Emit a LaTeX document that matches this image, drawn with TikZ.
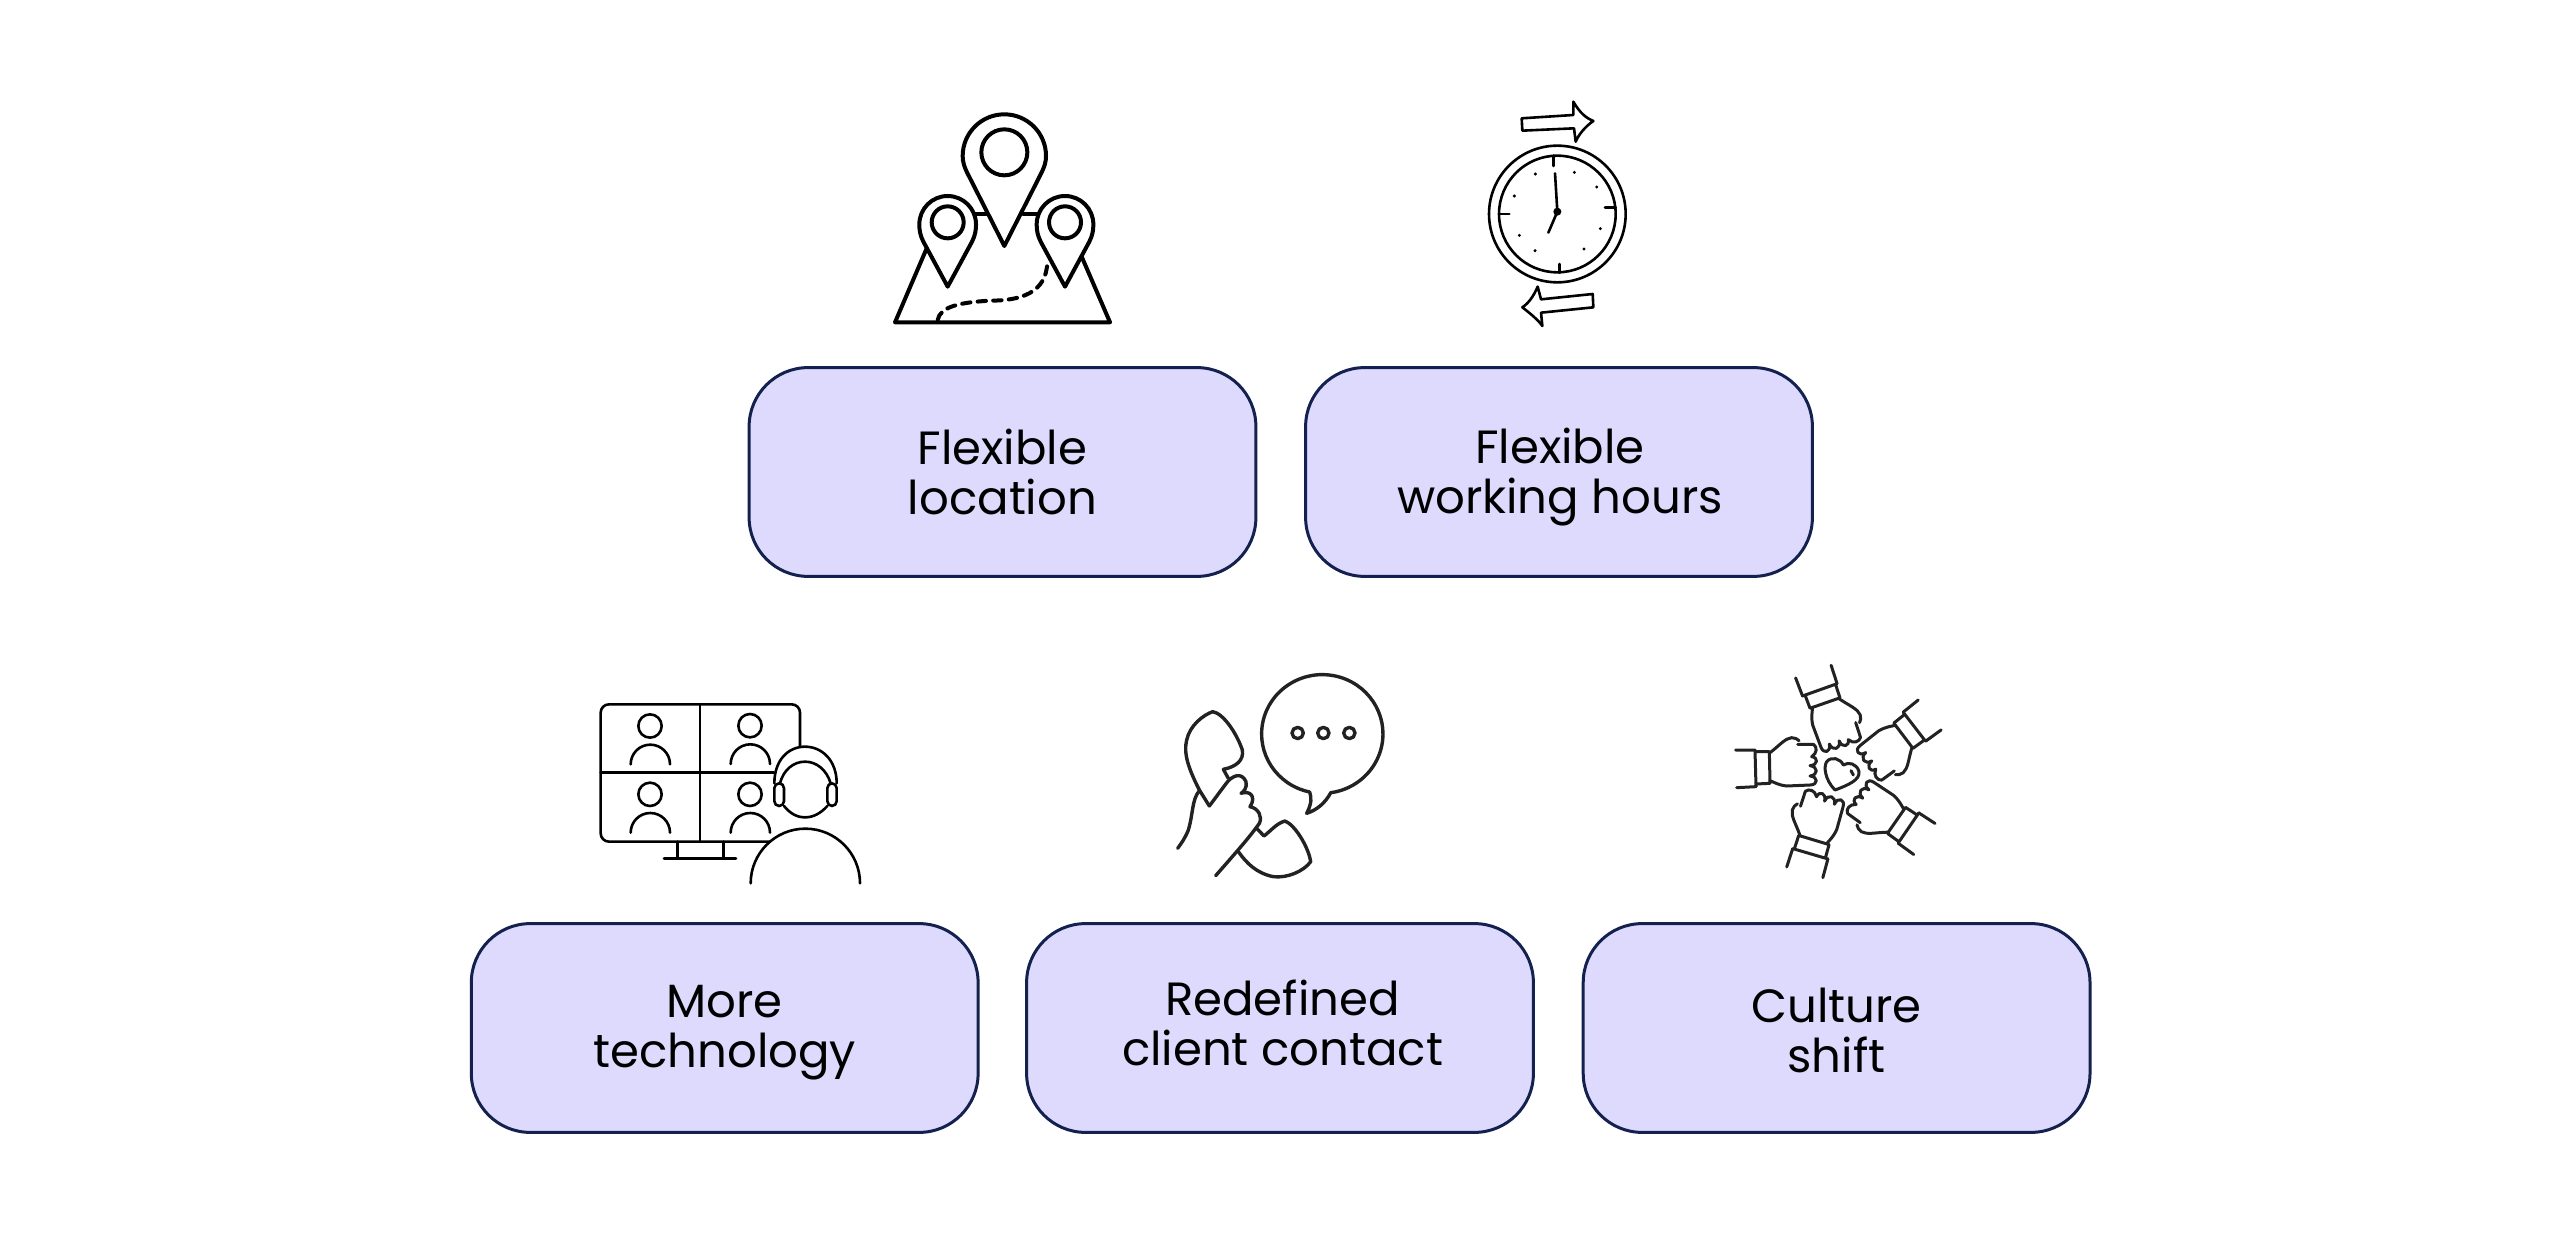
\documentclass[tikz,border=0pt]{standalone}
\usepackage{fontspec}
\setmainfont{Poppins}
\usetikzlibrary{calc}
\definecolor{boxfill}{HTML}{DDDAFD}
\definecolor{boxline}{HTML}{14214F}
\definecolor{inkdark}{HTML}{222222}
\tikzset{
  boxnode/.style={draw=boxline,fill=boxfill,line width=1.5pt,rounded corners=29.5pt,minimum width=253.4pt,minimum height=104.4pt,inner sep=0pt},
  labelnode/.style={align=center,font=\fontsize{23.3}{25}\selectfont,text=black,inner sep=0pt},
  iconheavy/.style={line width=2pt,line join=round,line cap=round},
  iconthick/.style={line width=1.7pt,line join=round,line cap=round},
  iconmid/.style={line width=1.5pt,line join=round,line cap=round},
  iconthin/.style={line width=1.3pt,line join=round,line cap=round},
  zoomunits/.style={x=0.16667pt,y=-0.16667pt},
}
\newcommand{\personicon}[2]{%
  \draw[iconthin] (#1,#2) circle[radius=35];
  \draw[iconthin] (#1-58,#2+115) arc[start angle=180,end angle=360,radius=59];
}
\newcommand{\ls}{\rule{0pt}{14pt}\rule[-5pt]{0pt}{5pt}}
\begin{document}
\begin{tikzpicture}[x=0.5pt,y=-0.5pt]
\useasboundingbox (0,0) rectangle (2563,1234);
% boxes
\node[boxnode] (b1) at (1002.5,472) {};
\node[boxnode] (b2) at (1559,472) {};
\node[boxnode] (b3) at (724.7,1028) {};
\node[boxnode] (b4) at (1280,1028) {};
\node[boxnode] (b5) at (1836.6,1028) {};
\node[labelnode] (t1) at ($(b1)+(0,5)$) {\ls Flexible\\\ls location};
\node[labelnode] (t2) at ($(b2)+(1,5)$) {\ls Flexible\\\ls working hours};
\node[labelnode] (t3) at ($(b3)+(0,5)$) {\ls More\\\ls technology};
\node[labelnode] (t4) at ($(b4)+(2.5,0)$) {\ls Redefined\\\ls client contact};
\node[labelnode] (t5) at ($(b5)+(0,7)$) {\ls Culture\\\ls shift};
% location icon
\begin{scope}[shift={(860,90)},zoomunits,iconheavy]
  \draw (433,468) -- (325,255) .. controls (312,230) and (308,215) .. (308,198) arc[start angle=180,end angle=360,radius=125] .. controls (558,215) and (554,230) .. (541,255) -- cycle;
  \draw (433,187) circle[radius=69];
  \draw (263,590) -- (190,455) .. controls (180,435) and (178,420) .. (178,403) arc[start angle=180,end angle=360,radius=85] .. controls (348,420) and (346,435) .. (336,455) -- cycle;
  \draw (263,397) circle[radius=48];
  \draw (615,590) -- (542,455) .. controls (532,435) and (530,420) .. (530,403) arc[start angle=180,end angle=360,radius=85] .. controls (700,420) and (698,435) .. (688,455) -- cycle;
  \draw (615,397) circle[radius=48];
  \draw (345,372) -- (378,372) (490,372) -- (535,372);
  \draw (200,475) -- (105,697) -- (750,697) -- (665,500);
  \draw[dash pattern=on 4.2pt off 3.6pt] (233,690) .. controls (240,650) and (300,637) .. (390,632) .. controls (480,632) and (560,610) .. (562,515);
\end{scope}
% clock icon
\begin{scope}[shift={(1460,90)},zoomunits,iconthin]
  \draw (185,85) -- (340,75) -- (340,35) .. controls (360,70) and (380,85) .. (400,93) .. controls (375,110) and (355,135) .. (347,155) -- (342,115) -- (187,122) -- cycle;
  \draw (398,612) -- (243,628) -- (233,590) .. controls (220,620) and (205,640) .. (187,652) .. controls (210,670) and (235,690) .. (247,708) -- (243,668) -- (400,652) -- cycle;
  \draw (292,372) circle[radius=205];
  \draw (292,372) circle[radius=175];
  \draw (280,197) -- (280,228) (435,353) -- (467,353) (298,522) -- (298,548) (120,372) -- (148,372);
  \draw (285,250) -- (292,365) -- (265,428);
  \fill (292,365) circle[radius=12];
  \foreach \p in {(226,252),(343,247),(410,291),(163,318),(421,416),(178,436),(225,482),(372,477)} \fill \p circle[radius=5];
\end{scope}
% video-call icon
\begin{scope}[shift={(580,680)},zoomunits,iconthin]
  \draw (660,200) -- (660,98) arc[start angle=0,end angle=-90,radius=25] -- (87,73) arc[start angle=270,end angle=180,radius=25] -- (62,460) arc[start angle=180,end angle=90,radius=25] -- (570,485);
  \draw (360,73) -- (360,485) (62,277) -- (582,277);
  \draw (292,485) -- (292,535) (430,485) -- (430,535) (252,535) -- (468,535);
  \personicon{210}{138}
  \personicon{510}{137}
  \personicon{210}{343}
  \personicon{510}{343}
  \draw (612,378) .. controls (630,400) and (650,412) .. (675,412) .. controls (700,412) and (722,400) .. (742,378);
  \draw (600,310) .. controls (610,270) and (640,245) .. (675,245) .. controls (710,245) and (740,270) .. (752,310);
  \draw (583,310) .. controls (583,240) and (625,200) .. (675,200) .. controls (725,200) and (770,240) .. (770,310);
  \draw[rounded corners=2.4pt] (583,310) rectangle (612,378);
  \draw[rounded corners=2.4pt] (742,310) rectangle (770,378);
  \draw (512,610) arc[start angle=180,end angle=360,radius=164];
\end{scope}
% phone icon
\begin{scope}[shift={(1160,660)},zoomunits,iconthick,draw=inkdark]
  \draw (449,396) arc[start angle=102,end angle=442,x radius=182,y radius=178] .. controls (495,430) and (470,450) .. (440,460) .. controls (455,430) and (455,415) .. (449,396);
  \draw (413,219) circle[radius=17] (490,219) circle[radius=17] (568,219) circle[radius=17];
  \draw (148,438) -- (118,390) .. controls (85,325) and (70,280) .. (80,240) .. controls (90,195) and (130,165) .. (158,155) .. controls (190,160) and (230,220) .. (247,270) .. controls (252,300) and (230,320) .. (190,328) -- (205,355);
  \draw (148,438) -- (195,375) .. controls (215,345) and (245,335) .. (258,365) .. controls (262,385) and (250,395) .. (243,400) .. controls (270,390) and (290,410) .. (270,440) .. controls (295,445) and (308,470) .. (298,490) .. controls (270,530) and (230,575) .. (167,647);
  \draw (118,392) .. controls (95,420) and (100,460) .. (85,510) .. controls (75,535) and (65,548) .. (53,565);
  \draw (290,505) -- (312,528) .. controls (335,510) and (350,490) .. (375,483) .. controls (405,495) and (445,560) .. (452,605) .. controls (430,635) and (380,655) .. (340,650) .. controls (290,640) and (260,610) .. (235,575);
\end{scope}
% hands icon
\begin{scope}[shift={(1720,650)},zoomunits,iconmid,draw=inkdark]
  \foreach \a in {0,-72,-144,-216,-288}{
    \begin{scope}[rotate around={\a:(365,370)}]
      \draw (47,300) -- (105,300) (50,413) -- (108,410);
      \draw (105,303) -- (108,410) (148,305) -- (150,400) (105,305) -- (148,305) (108,402) -- (150,400);
      \draw (150,308) .. controls (180,285) and (195,265) .. (215,263) .. controls (225,263) and (232,267) .. (237,272);
      \draw (233,283) -- (280,283) .. controls (292,290) and (292,310) .. (275,320) .. controls (295,322) and (295,345) .. (270,347) .. controls (295,350) and (295,375) .. (270,378) .. controls (295,380) and (295,405) .. (270,405) -- (200,408) .. controls (175,405) and (165,398) .. (150,392);
    \end{scope}
  }
  \draw (345,420) .. controls (315,390) and (310,350) .. (320,335) .. controls (335,318) and (360,325) .. (370,345) .. controls (385,335) and (410,340) .. (417,365) .. controls (420,390) and (385,405) .. (345,420);
  \draw (393,362) -- (400,375);
\end{scope}
\end{tikzpicture}
\end{document}
